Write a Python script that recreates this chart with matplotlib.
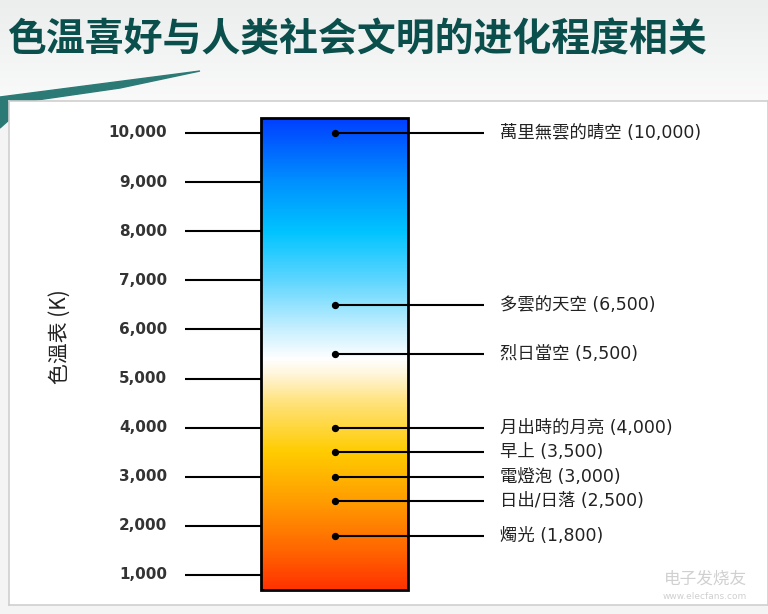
import numpy as np
import matplotlib.pyplot as plt
from matplotlib.colors import LinearSegmentedColormap
from matplotlib.patches import Rectangle, Polygon

plt.rcParams['font.family'] = ['DejaVu Sans', 'Noto Sans CJK TC']

# ============================
# Données
# ============================
title = "色温喜好与人类社会文明的进化程度相关"
y_label = "色溫表 (K)"

tick_values = [1000, 2000, 3000, 4000, 5000, 6000, 7000, 8000, 9000, 10000]
tick_labels = ["1,000", "2,000", "3,000", "4,000", "5,000",
               "6,000", "7,000", "8,000", "9,000", "10,000"]

source_temps = [10000, 6500, 5500, 4000, 3500, 3000, 2500, 1800]
source_names = ["萬里無雲的晴空", "多雲的天空", "烈日當空", "月出時的月亮",
                "早上", "電燈泡", "日出/日落", "燭光"]

bar_range = [700, 10300]

# gradient stops (kelvin -> couleur)
grad_temps = [700, 1500, 2500, 3500, 4500, 5100, 5400, 6000, 7000, 8000, 9000, 10300]
grad_colors = ["#ff3300", "#ff6600", "#ff9d00", "#ffcc00", "#ffe27a", "#fff6dc",
               "#ffffff", "#c8f0ff", "#5fd6ff", "#00c4ff", "#0092ff", "#0040ff"]

# ============================
# Figure
# ============================
fig = plt.figure(figsize=(7.68, 6.14), dpi=100)

# fond + bandeau
bg = fig.add_axes([0, 0, 1, 1])
bg.set_xlim(0, 768)
bg.set_ylim(614, 0)
bg.axis("off")
shade = np.linspace(0, 1, 200).reshape(-1, 1)
bg.imshow(shade, extent=[0, 768, 110, 0], cmap=LinearSegmentedColormap.from_list(
    "bg", ["#eceeee", "#f3f4f4", "#fbfbfb"]), aspect="auto")
bg.add_patch(Rectangle((0, 110), 768, 504, color="#f4f4f4"))
bg.add_patch(Polygon([[0, 97], [100, 84], [200, 71], [120, 88], [30, 101],
                      [0, 128]], closed=True, color="#2c7a76"))
bg.text(7, 40, title, fontsize=28, fontweight="bold", color="#0b4f4c",
        va="center", ha="left", family=["Noto Sans CJK SC", "DejaVu Sans"])

# panneau du graphique
ax = fig.add_axes([9 / 768, 9 / 614, 759 / 768, 504 / 614])
ax.set_xlim(9, 768)
ax.set_ylim(389, 10651)
ax.set_xticks([])
ax.set_yticks([])
for s in ax.spines.values():
    s.set_color("#cfcfcf")
    s.set_linewidth(1.2)

# barre dégradée
kcmap = LinearSegmentedColormap.from_list(
    "kelvin", list(zip([(t - bar_range[0]) / (bar_range[1] - bar_range[0]) for t in grad_temps],
                       grad_colors)))
vals = np.linspace(bar_range[0], bar_range[1], 400).reshape(-1, 1)
ax.imshow(vals, extent=[261, 408, bar_range[0], bar_range[1]], origin="lower",
          cmap=kcmap, vmin=bar_range[0], vmax=bar_range[1], aspect="auto", zorder=2)
ax.add_patch(Rectangle((261, bar_range[0]), 147, bar_range[1] - bar_range[0],
                       fill=False, edgecolor="black", linewidth=2, zorder=3))

# graduations
ax.hlines(tick_values, 185, 261, color="black", linewidth=1.5, zorder=3)
for v, lab in zip(tick_values, tick_labels):
    ax.text(167, v, lab, ha="right", va="center", fontsize=11, fontweight="bold",
            color="#333333")

ax.text(60, 5850, y_label, rotation=90, ha="center", va="center",
        fontsize=15, color="#222222", family=["Noto Sans CJK TC", "DejaVu Sans"])

# sources lumineuses
ax.hlines(source_temps, 335, 484, color="black", linewidth=1.5, zorder=4)
ax.scatter([335] * len(source_temps), source_temps, s=18, color="black", zorder=5)
for t, name in zip(source_temps, source_names):
    ax.text(500, t, f"{name} ({t:,})", ha="left", va="center",
            fontsize=12.5, color="#222222")

# filigrane
ax.text(705, 930, "电子发烧友", ha="center", va="center", fontsize=12,
        color="#d0d0d0", style="italic")
ax.text(705, 560, "www.elecfans.com", ha="center", va="center", fontsize=6.5,
        color="#d0d0d0")

fig.savefig("out.png", dpi=100)
